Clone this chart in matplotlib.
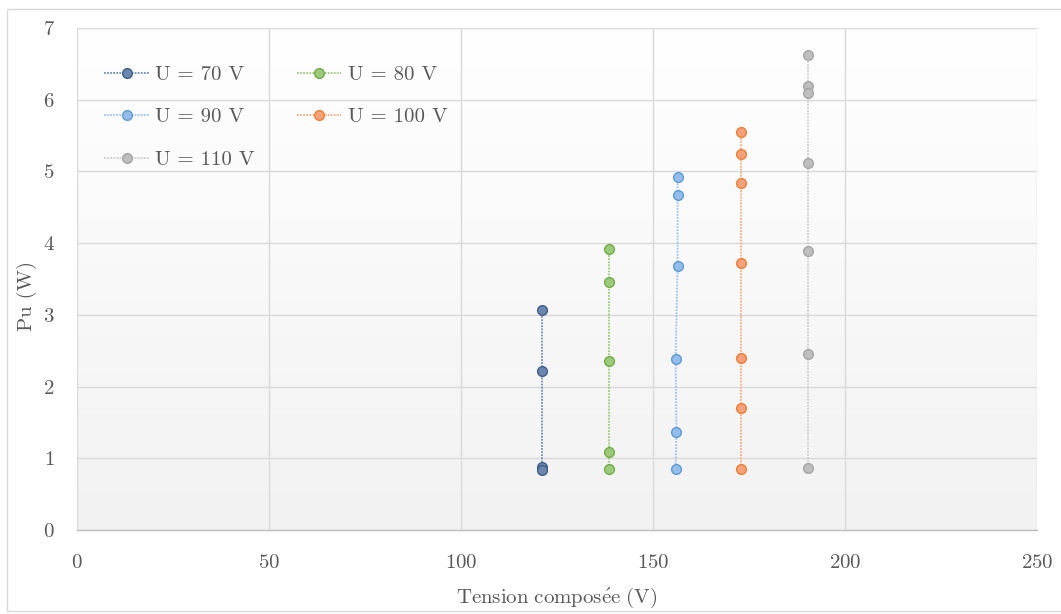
import matplotlib
matplotlib.use("Agg")
import matplotlib.pyplot as plt
from matplotlib.patches import Rectangle
import numpy as np

plt.rcParams['font.family'] = ['cmr10', 'DejaVu Serif']
plt.rcParams['mathtext.fontset'] = 'cm'
plt.rcParams['axes.formatter.use_mathtext'] = True

# data (x = line voltage, y = useful power)
labels = ["U = 70 V", "U = 80 V", "U = 90 V", "U = 100 V", "U = 110 V"]
x70 = [121.1, 121.1, 121.1, 121.1]
y70 = [3.07, 2.22, 0.88, 0.83]
x80 = [138.5, 138.5, 138.5, 138.5, 138.5]
y80 = [3.92, 3.46, 2.36, 1.09, 0.85]
x90 = [156.4, 156.4, 156.4, 155.9, 156.1, 155.9]
y90 = [4.92, 4.67, 3.68, 2.39, 1.37, 0.85]
x100 = [173.0, 173.0, 173.0, 173.0, 173.0, 173.0, 173.0]
y100 = [5.55, 5.24, 4.84, 3.73, 2.40, 1.70, 0.85]
x110 = [190.4, 190.4, 190.4, 190.4, 190.4, 190.4, 190.4]
y110 = [6.62, 6.19, 6.10, 5.12, 3.89, 2.45, 0.86]

series_x = [x70, x80, x90, x100, x110]
series_y = [y70, y80, y90, y100, y110]
line_colors = ["#6F8DB8", "#9CCB7C", "#9DC3EE", "#F5AD84", "#CDCDCD"]
face_colors = ["#6A86AE", "#9BCB7A", "#94BDEC", "#F5A27C", "#BEBEBE"]
edge_colors = ["#3E5F8A", "#70AD47", "#5B9BD5", "#ED7D31", "#A5A5A5"]

fig = plt.figure(figsize=(10.61, 6.14), dpi=100)
ax = fig.add_axes([77 / 1061, 1 - 530 / 614, (1037 - 77) / 1061, (530 - 28) / 614])

# outer chart border
fig.patches.append(Rectangle((7 / 1061, 3 / 614), 1.2, 602 / 614,
                             transform=fig.transFigure, fill=False,
                             edgecolor="#D9D9D9", linewidth=1.0))

# plot area gradient (white on top, light gray at bottom)
grad = np.linspace(1.0, 0.0, 256).reshape(-1, 1)
ax.imshow(grad, extent=[0, 1, 0, 1], transform=ax.transAxes, aspect='auto',
          cmap=matplotlib.colors.LinearSegmentedColormap.from_list(
              "bg", ["#F2F2F2", "#FFFFFF"]), zorder=-2)

handles = []
for xs, ys, lab, lc, fc, ec in zip(series_x, series_y, labels,
                                    line_colors, face_colors, edge_colors):
    h, = ax.plot(xs, ys, linestyle=(0, (1, 0.7)), linewidth=1.3, color=lc,
                 marker='o', markersize=7, markerfacecolor=fc,
                 markeredgecolor=ec, markeredgewidth=1.0, label=lab, zorder=3)
    handles.append(h)

ax.set_xlim(0, 250)
ax.set_ylim(0, 7)
ax.set_xticks(np.arange(0, 251, 50))
ax.set_yticks(np.arange(0, 8, 1))
ax.set_axisbelow(True)
ax.grid(True, color="#D9D9D9", linewidth=1.0)
ax.tick_params(length=0, labelsize=15, colors="#595959")
ax.tick_params(axis='x', pad=17)
ax.tick_params(axis='y', pad=16)
for s in ["top", "right", "left"]:
    ax.spines[s].set_visible(False)
ax.spines["bottom"].set_color("#BFBFBF")
ax.spines["bottom"].set_linewidth(1.0)

ax.set_xlabel(r"$\mathrm{Tension\ compos\acute{e}e\ (V)}$", fontsize=15,
              color="#595959", labelpad=10)
ax.set_ylabel("Pu (W)", fontsize=15, color="#595959", labelpad=4)
ax.yaxis.label.set_y(0.466)

# legend laid out row by row like the original
order = [0, 2, 4, 1, 3]
leg = ax.legend([handles[i] for i in order], [labels[i] for i in order],
                ncol=2, loc='upper left', bbox_to_anchor=(0.009, 0.963),
                frameon=False, fontsize=15, labelspacing=1.15,
                handlelength=2.15, handletextpad=0.3, columnspacing=2.0)
for t in leg.get_texts():
    t.set_color("#595959")

fig.savefig("out.png", dpi=100)
